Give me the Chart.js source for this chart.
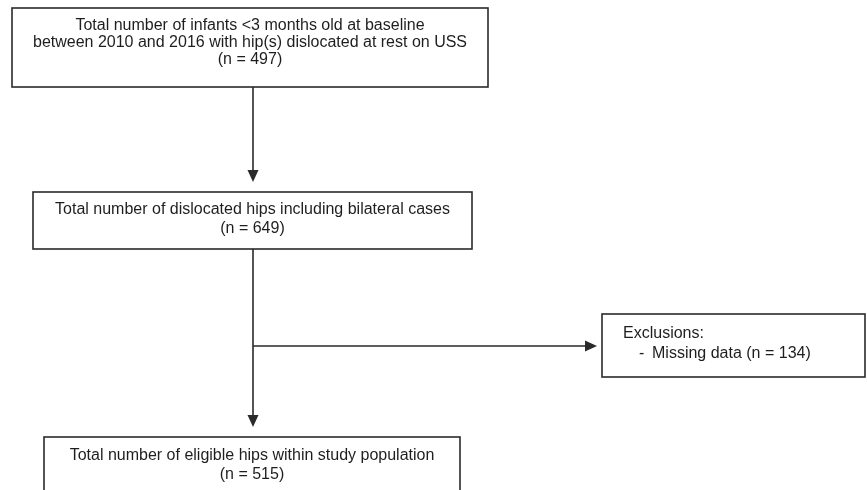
<!DOCTYPE html>
<html>
<head>
<meta charset="utf-8">
<script src="https://cdn.jsdelivr.net/npm/chart.js@4.4.0/dist/chart.umd.min.js"></script>
<style>
  html, body { margin: 0; padding: 0; background: #fff; }
  .chart-container { position: relative; width: 867px; height: 490px; }
</style>
</head>
<body>
<div class="chart-container"><canvas id="chart"></canvas></div>
<script>
// flowchart content
const stageLabels = [
  ["Total number of infants <3 months old at baseline", "between 2010 and 2016 with hip(s) dislocated at rest on USS"],
  ["Total number of dislocated hips including bilateral cases"],
  ["Total number of eligible hips within study population"],
];
const stageCounts = [497, 649, 515];
const exclusionTitle = "Exclusions:";
const exclusionLabels = ["Missing data"];
const exclusionCounts = [134];

// where the boxes sit, in axis units (axes run 0..867 and 0..490)
const stageBoxes = [
  { x0: 12, x1: 488, y0: 8, y1: 87, textY: 26, lineGap: 17 },
  { x0: 33, x1: 472, y0: 192, y1: 249, textY: 210, lineGap: 19 },
  { x0: 44, x1: 460, y0: 437, y1: 500, textY: 456, lineGap: 19 },
];
const exclusionBox = { x0: 602, x1: 865, y0: 314, y1: 377, textX: 623, textY: 334 };
const trunkX = 253;
const branchY = 346;

const FONT = '16px "Liberation Sans", Arial, sans-serif';
const LINE = "#2a2a2a";
const TEXT = "#1e1e1e";
const HEAD_W = 5.5, HEAD_L = 12;

function arrowDown(ctx, x, yTip) {
  ctx.beginPath();
  ctx.moveTo(x - HEAD_W, yTip - HEAD_L);
  ctx.lineTo(x + HEAD_W, yTip - HEAD_L);
  ctx.lineTo(x, yTip);
  ctx.closePath();
  ctx.fill();
}

function arrowRight(ctx, xTip, y) {
  ctx.beginPath();
  ctx.moveTo(xTip - HEAD_L, y - HEAD_W);
  ctx.lineTo(xTip - HEAD_L, y + HEAD_W);
  ctx.lineTo(xTip, y);
  ctx.closePath();
  ctx.fill();
}

const flowPlugin = {
  id: "flow",
  afterDraw(chart) {
    const ctx = chart.ctx;
    const sx = chart.scales.x, sy = chart.scales.y;
    const px = (v) => sx.getPixelForValue(v);
    const py = (v) => sy.getPixelForValue(v);

    ctx.save();
    ctx.strokeStyle = LINE;
    ctx.fillStyle = LINE;
    ctx.lineWidth = 1.6;

    // boxes + text
    stageBoxes.forEach((b, i) => {
      ctx.strokeRect(px(b.x0), py(b.y0), px(b.x1) - px(b.x0), py(b.y1) - py(b.y0));
      const lines = [...stageLabels[i], "(n = " + stageCounts[i] + ")"];
      ctx.save();
      ctx.fillStyle = TEXT;
      ctx.font = FONT;
      ctx.textAlign = "center";
      ctx.textBaseline = "middle";
      const cx = (px(b.x0) + px(b.x1)) / 2;
      lines.forEach((t, k) => ctx.fillText(t, cx, py(b.textY + k * b.lineGap)));
      ctx.restore();
    });

    const e = exclusionBox;
    ctx.strokeRect(px(e.x0), py(e.y0), px(e.x1) - px(e.x0), py(e.y1) - py(e.y0));
    ctx.save();
    ctx.fillStyle = TEXT;
    ctx.font = FONT;
    ctx.textAlign = "left";
    ctx.textBaseline = "middle";
    ctx.fillText(exclusionTitle, px(e.textX), py(e.textY));
    exclusionLabels.forEach((t, k) => {
      const y = py(e.textY + 20 * (k + 1));
      ctx.fillText("-", px(e.textX + 16), y);
      ctx.fillText(t + " (n = " + exclusionCounts[k] + ")", px(e.textX + 29), y);
    });
    ctx.restore();

    // connectors
    ctx.beginPath();
    ctx.moveTo(px(trunkX), py(stageBoxes[0].y1));
    ctx.lineTo(px(trunkX), py(stageBoxes[1].y0 - 12));
    ctx.moveTo(px(trunkX), py(stageBoxes[1].y1));
    ctx.lineTo(px(trunkX), py(stageBoxes[2].y0 - 12));
    ctx.moveTo(px(trunkX), py(branchY));
    ctx.lineTo(px(exclusionBox.x0 - 5 - HEAD_L), py(branchY));
    ctx.stroke();
    arrowDown(ctx, px(trunkX), py(stageBoxes[1].y0 - 10));
    arrowDown(ctx, px(trunkX), py(stageBoxes[2].y0 - 10));
    arrowRight(ctx, px(exclusionBox.x0 - 5), py(branchY));
    ctx.restore();
  },
};

const ctx = document.getElementById("chart").getContext("2d");
new Chart(ctx, {
  type: "scatter",
  data: { datasets: [{ data: [], pointRadius: 0 }] },
  options: {
    responsive: true,
    maintainAspectRatio: false,
    animation: false,
    layout: { padding: 0 },
    scales: {
      x: { type: "linear", min: 0, max: 867, display: false },
      y: { type: "linear", min: 0, max: 490, reverse: true, display: false },
    },
    plugins: { legend: { display: false }, tooltip: { enabled: false } },
  },
  plugins: [flowPlugin],
});
</script>
</body>
</html>
